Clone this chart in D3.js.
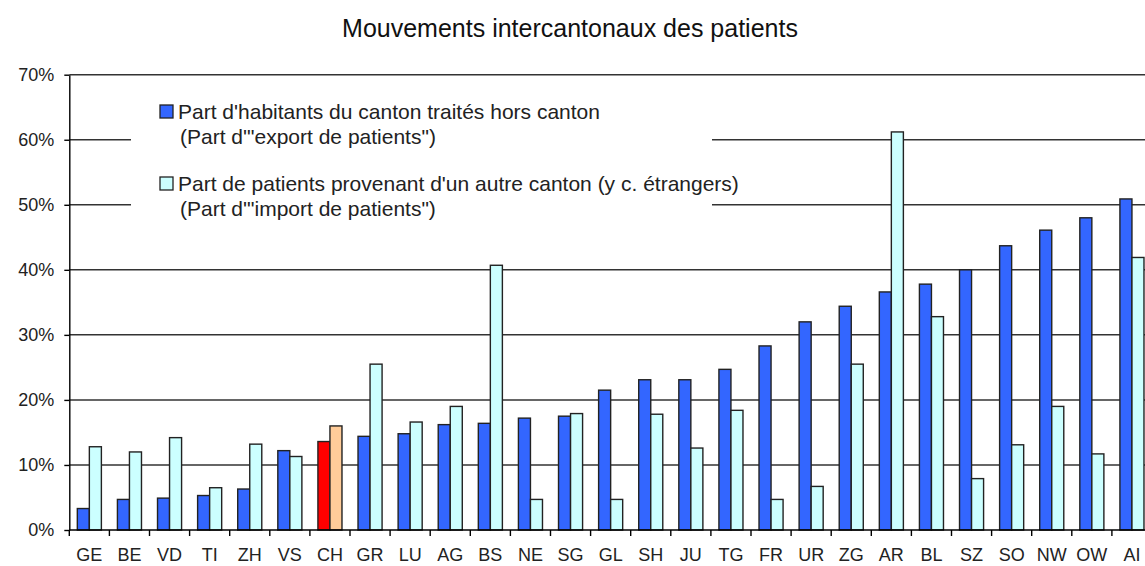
<!DOCTYPE html>
<html lang="fr">
<head>
<meta charset="UTF-8">
<title>Mouvements intercantonaux des patients</title>
<style>
    body { margin: 0; background: #fff; }
    svg { display: block; font-family: "Liberation Sans", Arial, sans-serif; }
    .grid line { stroke: #333; stroke-width: 1.5px; }
    .axis path, .axis line { stroke: #000; stroke-width: 1.4px; }
    .axis text { font-size: 18px; fill: #222; }
    .bar { stroke: #222; stroke-width: 1.4px; }
    .legend text { font-size: 21px; fill: #222; }
</style>
</head>
<body>
<svg width="1145" height="566"></svg>
<script src="https://d3js.org/d3.v7.min.js"></script>
<script>
// cantons, dans l'ordre du graphique
const cantons = ["GE", "BE", "VD", "TI", "ZH", "VS", "CH", "GR", "LU", "AG", "BS", "NE", "SG", "GL",
    "SH", "JU", "TG", "FR", "UR", "ZG", "AR", "BL", "SZ", "SO", "NW", "OW", "AI"];

// part d'"export" de patients (%)
const exportShare = [3.3, 4.7, 4.9, 5.3, 6.3, 12.2, 13.6, 14.4, 14.8, 16.2, 16.4, 17.2, 17.5, 21.5,
    23.1, 23.1, 24.7, 28.3, 32.0, 34.4, 36.6, 37.8, 40.0, 43.7, 46.1, 48.0, 50.9];

// part d'"import" de patients (%)
const importShare = [12.8, 12.0, 14.2, 6.5, 13.2, 11.3, 16.0, 25.5, 16.6, 19.0, 40.7, 4.7, 17.9, 4.7,
    17.8, 12.6, 18.4, 4.7, 6.7, 25.5, 61.2, 32.8, 7.9, 13.1, 19.0, 11.7, 41.9];

const yTicks = [0, 10, 20, 30, 40, 50, 60, 70];

const legendLabels = [
    ["Part d'habitants du canton traités hors canton", "(Part d'\"export de patients\")"],
    ["Part de patients provenant d'un autre canton (y c. étrangers)", "(Part d'\"import de patients\")"]
];

const colors = { export: "#3366ff", import: "#ccffff", chExport: "#ff0000", chImport: "#ffcc99" };

const svg = d3.select("svg");
const x0 = 69.3, y0 = 530;

const x = d3.scaleBand()
    .domain(cantons)
    .range([x0, x0 + 40.1 * cantons.length])
    .paddingInner(0.4)
    .paddingOuter(0.2);

const y = d3.scaleLinear().domain([0, 70]).range([y0, 74.7]);

// titre
svg.append("text")
    .attr("x", 570).attr("y", 37)
    .attr("text-anchor", "middle")
    .style("font-size", "25px")
    .style("fill", "#111")
    .text("Mouvements intercantonaux des patients");

// lignes de grille
svg.append("g").attr("class", "grid")
    .selectAll("line")
    .data(yTicks.filter(d => d > 0))
    .enter().append("line")
    .attr("x1", x0).attr("x2", 1145)
    .attr("y1", d => y(d)).attr("y2", d => y(d));

// fond blanc de la légende (coupe les lignes 50% et 60%)
svg.append("rect")
    .attr("x", 131).attr("y", 92)
    .attr("width", 712 - 131).attr("height", 130)
    .attr("fill", "#fff");

// barres
const groups = svg.append("g")
    .selectAll("g")
    .data(cantons)
    .enter().append("g");

const bw = x.bandwidth() / 2;

groups.append("rect")
    .attr("class", "bar")
    .attr("x", d => x(d))
    .attr("y", (d, i) => y(exportShare[i]))
    .attr("width", bw)
    .attr("height", (d, i) => y0 - y(exportShare[i]))
    .attr("fill", d => d === "CH" ? colors.chExport : colors.export);

groups.append("rect")
    .attr("class", "bar")
    .attr("x", d => x(d) + bw)
    .attr("y", (d, i) => y(importShare[i]))
    .attr("width", bw)
    .attr("height", (d, i) => y0 - y(importShare[i]))
    .attr("fill", d => d === "CH" ? colors.chImport : colors.import);

// axe Y
const yAxis = svg.append("g").attr("class", "axis")
    .attr("transform", `translate(${x0},0)`)
    .call(d3.axisLeft(y).tickValues(yTicks).tickFormat(d => d + "%").tickSize(5).tickSizeOuter(0));
yAxis.selectAll("text").attr("x", -15);

// axe X
const xAxis = svg.append("g").attr("class", "axis")
    .attr("transform", `translate(0,${y0})`);
xAxis.append("line")
    .attr("x1", x0).attr("x2", 1145)
    .attr("y1", 0).attr("y2", 0);
xAxis.selectAll("line.tick")
    .data(cantons)
    .enter().append("line")
    .attr("class", "tick")
    .attr("x1", d => x(d) - x.step() * 0.2).attr("x2", d => x(d) - x.step() * 0.2)
    .attr("y1", 0).attr("y2", 6);
xAxis.selectAll("text")
    .data(cantons)
    .enter().append("text")
    .attr("x", d => x(d) + x.bandwidth() / 2)
    .attr("y", 31)
    .attr("text-anchor", "middle")
    .text(d => d);

// légende
const legend = svg.append("g").attr("class", "legend");
[colors.export, colors.import].forEach((c, i) => {
    const top = 105 + i * 72;
    legend.append("rect")
        .attr("x", 160).attr("y", top)
        .attr("width", 13).attr("height", 13)
        .attr("fill", c).attr("stroke", "#222").attr("stroke-width", 1.3);
    legend.append("text")
        .attr("x", 178).attr("y", top + 14)
        .text(legendLabels[i][0]);
    legend.append("text")
        .attr("x", 180).attr("y", top + 39)
        .text(legendLabels[i][1]);
});
</script>
</body>
</html>
